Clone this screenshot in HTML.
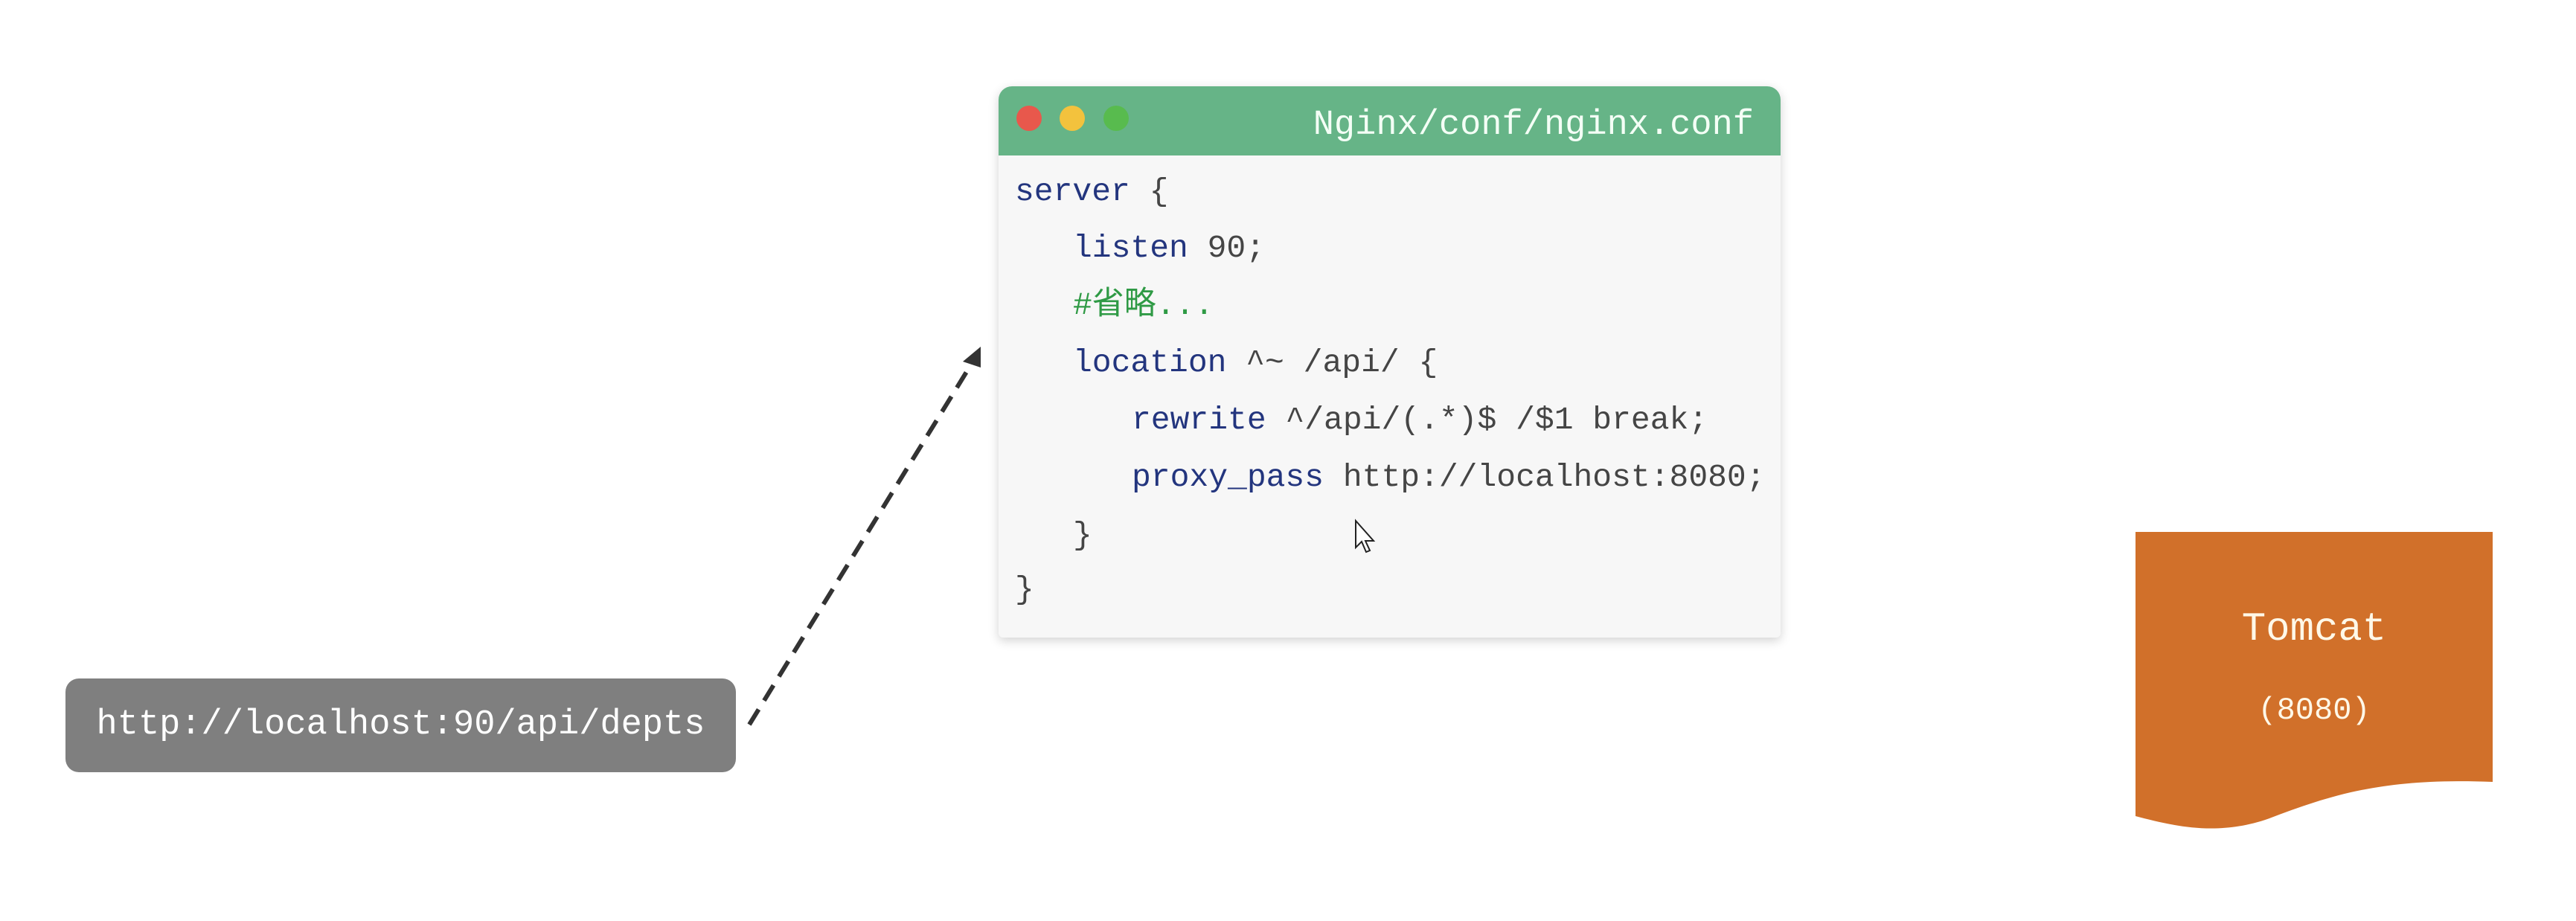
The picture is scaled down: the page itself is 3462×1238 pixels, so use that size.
<!DOCTYPE html>
<html><head><meta charset="utf-8"><style>
html,body{margin:0;padding:0;background:#fff;width:3462px;height:1238px;overflow:hidden;position:relative}
.mono{font-family:"Liberation Mono","DejaVu Sans Mono","Noto Sans CJK SC",monospace}
#win{position:absolute;left:1342px;top:116px;width:1051px;height:741px;background:#f7f7f7;border-radius:18px 18px 6px 6px;box-shadow:0 4px 14px rgba(0,0,0,0.18);overflow:hidden}
#hdr{position:absolute;left:0;top:0;width:100%;height:93px;background:#66b487}
.dot{position:absolute;top:26px;width:34px;height:34px;border-radius:50%}
#title{position:absolute;right:36px;top:28px;font-size:47px;color:#f4fff6;line-height:50px}
.ln{position:absolute;font-size:43px;line-height:50px;color:#454545;white-space:pre}
.k{color:#23357e}
.c{color:#2f9a45}
#url{position:absolute;left:88px;top:912px;width:901px;height:126px;background:#7f7f7f;border-radius:18px;color:#fff;font-size:47px;line-height:126px;text-align:center}
</style></head><body>
<div id="win">
  <div id="hdr">
    <div class="dot" style="left:24px;background:#e8584c"></div>
    <div class="dot" style="left:82px;background:#f3c23d"></div>
    <div class="dot" style="left:141px;background:#58bb4e"></div>
    <div id="title" class="mono">Nginx/conf/nginx.conf</div>
  </div>
  <div class="ln mono" style="left:22px;top:117px"><span class="k">server</span> {</div>
  <div class="ln mono" style="left:100px;top:193px"><span class="k">listen</span> 90;</div>
  <div class="ln mono c" style="left:100px;top:270px">#省略...</div>
  <div class="ln mono" style="left:100px;top:347px"><span class="k">location</span> ^~ /api/ {</div>
  <div class="ln mono" style="left:179px;top:424px"><span class="k">rewrite</span> ^/api/(.*)$ /$1 break;</div>
  <div class="ln mono" style="left:179px;top:501px"><span class="k">proxy_pass</span> http://localhost:8080;</div>
  <div class="ln mono" style="left:100px;top:579px">}</div>
  <div class="ln mono" style="left:22px;top:652px">}</div>
</div>
<div id="url" class="mono">http://localhost:90/api/depts</div>
<svg style="position:absolute;left:0;top:0" width="3462" height="1238">
  <line x1="1007" y1="974" x2="1310" y2="482" stroke="#333" stroke-width="6" stroke-dasharray="24,14"/>
  <polygon points="1318,466 1294,486 1318,494" fill="#333"/>
  <path d="M2870,715 L3350,715 L3350,1051 C3200,1045 3130,1070 3050,1100 C2980,1125 2920,1110 2870,1097 Z" fill="#d1702a"/>
  <text x="3110" y="860" font-family="Liberation Mono, monospace" font-size="54" fill="#fff8e8" text-anchor="middle">Tomcat</text>
  <text x="3110" y="966" font-family="Liberation Mono, monospace" font-size="42" fill="#fff8e8" text-anchor="middle">(8080)</text>
  <path d="M1822,700 L1822,736 L1830,728 L1836,742 L1841,740 L1835,727 L1846,727 Z" fill="#fff" stroke="#222" stroke-width="2"/>
</svg>
</body></html>
